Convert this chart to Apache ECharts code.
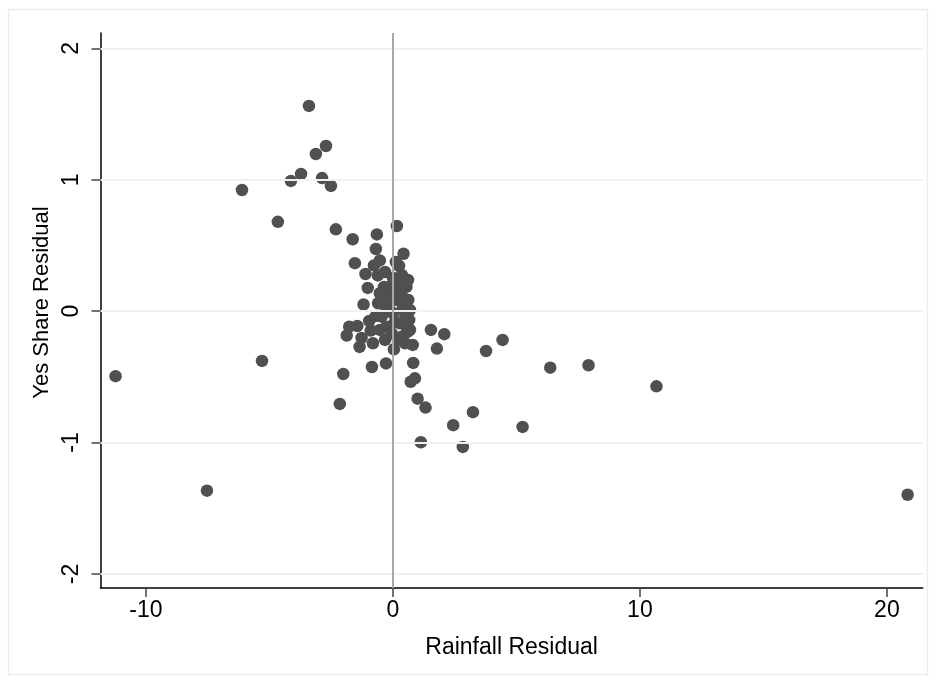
<!DOCTYPE html>
<html>
<head>
<meta charset="utf-8">
<script src="https://cdn.jsdelivr.net/npm/echarts@6/dist/echarts.min.js"></script>
<style>
html,body{margin:0;padding:0;background:#fff;}
#chart{width:936px;height:683px;}
</style>
</head>
<body>
<div id="chart"></div>
<script>
// Rainfall residual (x) values
const rainfallResidual = [
  -11.23, -7.53, -6.11, -5.30, -4.66, -4.13, -3.72, -3.40, -3.12, -2.87,
  -2.71, -2.51, -2.31, -2.15, -2.01, -1.63, -1.54, -1.77, -1.44, -1.87,
  -1.27, -1.35, -1.19, -1.11, -1.02, -0.96, -0.90, -0.81, -0.85, -0.65,
  -0.69, -0.53, -0.77, -0.61, -0.28, 0.04, 0.16, 0.43, 0.25, 0.82,
  0.89, 0.72, 1.00, 1.32, 1.13, 1.54, 2.08, 1.78, 2.44, 2.83,
  3.24, 3.77, 4.44, 5.25, 6.37, 7.92, 10.67, 20.84, 0.49, 0.80,
  0.69, -0.12, 0.21, 0.55, -0.53, -0.60, 0.15, 0.62, -0.46, 0.01,
  0.69, -0.26, 0.28, 0.66, -0.05, 0.35, 0.00, 0.36, 0.61, -0.32,
  0.12, -0.36, -0.20, 0.40, 0.08, -0.32, 0.20, -0.12, 0.36, -0.28,
  -0.53, 0.53, -0.69, 0.45, 0.30, -0.10, 0.50, 0.10, -0.40, 0.58
];
// Yes share residual (y) values
const yesShareResidual = [
  -0.495, -1.366, 0.922, -0.379, 0.680, 0.991, 1.044, 1.562, 1.196, 1.013,
  1.257, 0.953, 0.623, -0.706, -0.478, 0.547, 0.365, -0.118, -0.113, -0.185,
  -0.204, -0.272, 0.051, 0.283, 0.177, -0.075, -0.147, -0.244, -0.425, 0.584,
  0.473, 0.386, 0.348, 0.272, -0.398, -0.290, 0.648, 0.437, 0.344, -0.394,
  -0.511, -0.537, -0.666, -0.734, -0.998, -0.143, -0.175, -0.285, -0.868, -1.033,
  -0.769, -0.303, -0.219, -0.881, -0.430, -0.412, -0.572, -1.397, -0.244, -0.257,
  -0.143, 0.186, 0.161, 0.186, 0.136, 0.060, 0.085, 0.085, -0.042, -0.016,
  0.009, -0.118, -0.092, -0.067, -0.168, -0.194, 0.253, 0.275, 0.237, 0.298,
  0.374, 0.184, 0.040, 0.017, -0.082, -0.219, -0.219, 0.116, 0.116, -0.006,
  -0.143, -0.113, -0.037, 0.050, 0.210, 0.000, -0.040, 0.140, 0.080, -0.160
];
const xTickValues = [-10, 0, 10, 20];
const yTickValues = [-2, -1, 0, 1, 2];
const xTitle = 'Rainfall Residual';
const yTitle = 'Yes Share Residual';

const points = rainfallResidual.map((x, i) => [x, yesShareResidual[i]]);

const chart = echarts.init(document.getElementById('chart'), null, {renderer: 'canvas'});
const font = 'Liberation Sans, Arial, Helvetica, sans-serif';
chart.setOption({
  animation: false,
  backgroundColor: '#ffffff',
  graphic: [{
    type: 'rect',
    shape: {x: 8.5, y: 9.5, width: 919, height: 665},
    style: {fill: 'none', stroke: '#E6EEF1', lineWidth: 1.5},
    silent: true, z: -1
  }],
  grid: {left: 100.5, right: 13.3, top: 33, bottom: 95, containLabel: false},
  xAxis: {
    type: 'value',
    min: -11.84, max: 21.45,
    name: xTitle, nameLocation: 'middle', nameGap: 48,
    nameTextStyle: {fontFamily: font, fontSize: 23, color: '#000'},
    axisLine: {show: true, onZero: false, lineStyle: {color: '#000', width: 1.5}},
    axisTick: {show: true, length: 9, customValues: xTickValues, lineStyle: {color: '#444', width: 1.5}},
    axisLabel: {customValues: xTickValues, margin: 11, fontFamily: font, fontSize: 23, color: '#000'},
    splitLine: {show: false}
  },
  yAxis: {
    type: 'value',
    min: -2.107, max: 2.117,
    name: yTitle, nameLocation: 'middle', nameGap: 40, nameRotate: 90,
    nameTextStyle: {fontFamily: font, fontSize: 22, color: '#000', padding: [0, 0, 0, 16]},
    axisLine: {show: true, onZero: false, lineStyle: {color: '#000', width: 1.5}},
    axisTick: {show: true, length: 9, customValues: yTickValues, lineStyle: {color: '#444', width: 1.5}},
    axisLabel: {customValues: yTickValues, rotate: 90, margin: 17, fontFamily: font, fontSize: 23, color: '#000'},
    splitLine: {show: false}
  },
  series: [{
    type: 'scatter',
    data: points,
    symbol: 'circle',
    symbolSize: 12.5,
    itemStyle: {color: '#505050', opacity: 1},
    z: 3,
    markLine: {
      silent: true,
      symbol: 'none',
      label: {show: false},
      animation: false,
      data: yTickValues.map(v => ({yAxis: v, lineStyle: {color: '#EAF2F3', width: 2, type: 'solid'}}))
        .concat([{xAxis: 0, lineStyle: {color: '#A8A8A8', width: 2, type: 'solid'}}])
    }
  }]
});
</script>
</body>
</html>
